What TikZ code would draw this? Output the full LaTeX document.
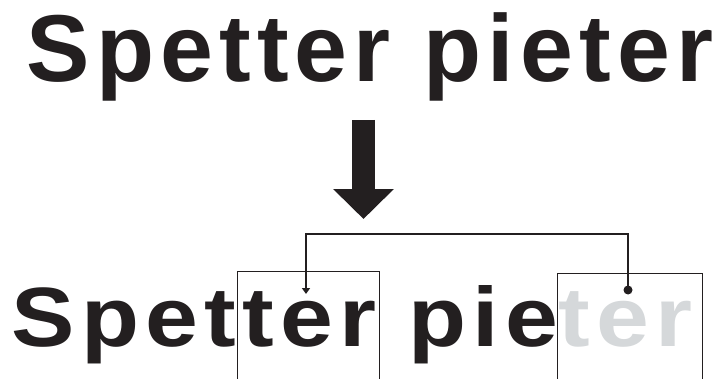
\documentclass[tikz,border=0pt]{standalone}
\usepackage{fontspec}
\usepackage{xcolor}
\usetikzlibrary{arrows.meta,positioning,calc}
\newfontfamily\spetfont{Liberation Sans}[LetterSpace=6.5]
\definecolor{ink}{HTML}{231F20}
\definecolor{fadegray}{HTML}{D5D8DA}
\tikzset{
  word/.style={inner sep=0pt, anchor=base west, text=ink,
               font=\spetfont\bfseries\fontsize{95}{95}\selectfont},
  tbox/.style={draw=ink, line width=1.2pt, inner sep=0pt, anchor=north west},
  link/.style={draw=ink, line width=1.5pt},
  linkarr/.style={-{Triangle[length=6pt,width=8pt]}},
  bigarr/.style={draw=ink, line width=23pt, -{Triangle[length=30pt,width=59pt]}},
}
\begin{document}
\begin{tikzpicture}[x=1pt, y=1pt]
\clip (0,0) rectangle (717,378);

% TOP LINE
\node[word] (top) at (26.5,296) {Spetter pieter};

% BIG ARROW
\coordinate (arrtop) at (363.5,258);
\coordinate (arrtip) at (363.5,159);
\draw[bigarr] (arrtop) -- (arrtip);

% BOTTOM LINE
\node[word, yscale=0.886] (bottom) at (11.6,32) {Spetter pie\textcolor{fadegray}{ter}};

% BOXES
\node[tbox, minimum width=142pt, minimum height=140pt] (boxL) at (237,107) {};
\node[tbox, minimum width=145pt, minimum height=140pt] (boxR) at (557,105) {};

% LINK
\coordinate (dotR) at ([xshift=71pt, yshift=-17pt]boxR.north west);
\coordinate (tipL) at ([xshift=69pt, yshift=-23pt]boxL.north west);
\fill[ink] (dotR) circle (4.5pt);
\draw[link, linkarr] (dotR) -- ++(0,56) -| (tipL);

\end{tikzpicture}
\end{document}
